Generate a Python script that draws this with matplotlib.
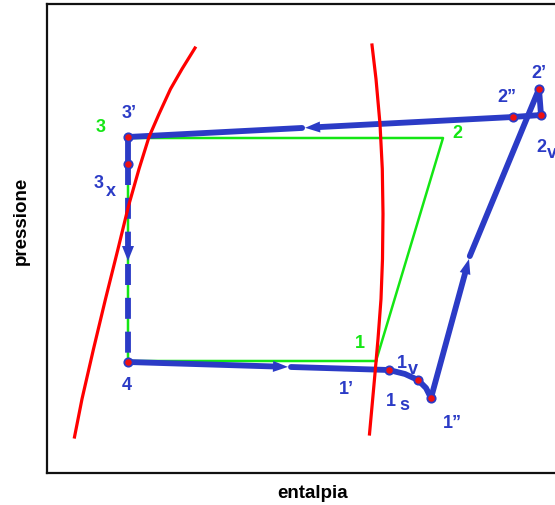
import numpy as np
import matplotlib
matplotlib.use("Agg")
import matplotlib.pyplot as plt
from matplotlib.patches import Polygon

plt.rcParams['font.family'] = ['Liberation Sans', 'DejaVu Sans']

BLUE = '#2b3bc6'
RED = '#ff0000'
GREEN = '#14e614'
LW = 4.2

# saturated liquid / saturated vapour curves (enthalpia, pressione)
liq_h = [148, 135, 123.5, 112, 102, 92, 81.5, 71, 58.5, 46.5, 35, 27.5]
liq_p = [425, 404, 384, 359, 336, 304, 267, 224, 174, 124, 74, 36]
vap_h = [325, 329, 333, 335.3, 336, 335.5, 334, 331, 327.5, 322.5]
vap_p = [428, 394, 349, 304, 259, 214, 174, 134, 94, 39]

# ideal cycle 1-2-3-4
ideal_lbl = ["1", "2", "3", "4"]
ideal_h = [329, 396, 81, 81]
ideal_p = [112, 335, 335, 112]

# real cycle states
real_lbl = ["3’", "3x", "4", "1s", "1v", "1”", "2’", "2v", "2”"]
real_h = [81, 81, 81, 342, 371, 384, 492, 494, 466]
real_p = [336, 309, 111, 103, 93, 75, 384, 358, 356]
S = dict(zip(real_lbl, zip(real_h, real_p)))

# superheat bend 1s -> 1v -> 1" and kink of the compression
bend_h = [342, 358, 371, 379, 384]
bend_p = [103, 99, 93, 85, 75]
kink = (422, 214)


def line(ax, a, b, ls='-'):
    ax.plot([a[0], b[0]], [a[1], b[1]], color=BLUE, lw=LW, ls=ls,
            solid_capstyle='round', dash_capstyle='butt', zorder=3)


def arrow_leg(ax, a, b, frac, ls='-', head=15, half=5.5, gap=3):
    a = np.array(a, float)
    b = np.array(b, float)
    d = b - a
    u = d / np.hypot(*d)
    n = np.array([-u[1], u[0]])
    tip = a + frac * d
    base = tip - head * u
    line(ax, a, base, ls)
    ax.add_patch(Polygon([tip, base + half * n, base - half * n],
                         closed=True, color=BLUE, lw=0, zorder=3))
    if frac < 1:
        line(ax, tip + gap * u, b, ls)
    return tip + gap * u


fig = plt.figure(figsize=(5.55, 5.06), dpi=100)
ax = fig.add_axes([47 / 555, 32 / 506, 513 / 555, 469 / 506])
ax.set_xlim(0, 513)
ax.set_ylim(0, 469)
ax.set_xticks([])
ax.set_yticks([])
for sp in ax.spines.values():
    sp.set_linewidth(1.6)
    sp.set_color('#111111')

# ideal cycle
ax.plot(ideal_h + ideal_h[:1], ideal_p + ideal_p[:1], color=GREEN, lw=1.8, zorder=2)

# real cycle
line(ax, S["3’"], S["3x"])
arrow_leg(ax, S["3x"], S["4"], 0.49, ls=(0, (3.6, 2.2)), half=6)
arrow_leg(ax, S["4"], S["1s"], 0.613)
ax.plot(bend_h, bend_p, color=BLUE, lw=LW, solid_capstyle='round',
        solid_joinstyle='round', zorder=3)
start = arrow_leg(ax, S["1”"], kink, 1.0)
line(ax, start, S["2’"])
line(ax, S["2’"], S["2v"])
line(ax, S["2v"], S["2”"])
arrow_leg(ax, S["2”"], S["3’"], 0.54)

# saturation curves
ax.plot(liq_h, liq_p, color=RED, lw=2.3, zorder=4, solid_joinstyle='round')
ax.plot(vap_h, vap_p, color=RED, lw=2.3, zorder=4, solid_joinstyle='round')

ax.plot(real_h, real_p, 'o', ms=6, mfc='#ee1111', mec=BLUE, mew=1.3, zorder=5)

# labels: (text, offset in pixels)
txt = dict(fontsize=13, fontweight='bold', ha='center', va='center',
           textcoords='offset pixels', annotation_clip=False)
real_off = {
    "3’": [("3’", (1, 24))],
    "3x": [("3", (-29, -18)), ("x", (-17, -26))],
    "4": [("4", (-1, -23))],
    "1s": [("1", (2, -30)), ("s", (15, -35))],
    "1v": [("1", (-16, 18)), ("v", (-5, 12))],
    "1”": [("1”", (21, -25))],
    "2’": [("2’", (0, 17))],
    "2v": [("2", (0, -31)), ("v", (11, -37))],
    "2”": [("2”", (-6, 21))],
}
for k, parts in real_off.items():
    for t, off in parts:
        ax.annotate(t, S[k], xytext=off, color=BLUE, **txt)

ideal_off = {"1": (-16, 18), "2": (14, 5), "3": (-27, 12)}
for k, h, p in zip(ideal_lbl, ideal_h, ideal_p):
    if k in ideal_off:
        ax.annotate(k, (h, p), xytext=ideal_off[k], color=GREEN, **txt)

ax.annotate("1’", S["1s"], xytext=(-43, -18), color=BLUE, **txt)

fig.text(313 / 555, 1 - 494 / 506, "entalpia", fontsize=13.5, fontweight='bold',
         ha='center', va='center')
fig.text(21 / 555, 1 - 221 / 506, "pressione", fontsize=13.5, fontweight='bold',
         ha='center', va='center', rotation=90)

fig.savefig("out.png", dpi=100)
